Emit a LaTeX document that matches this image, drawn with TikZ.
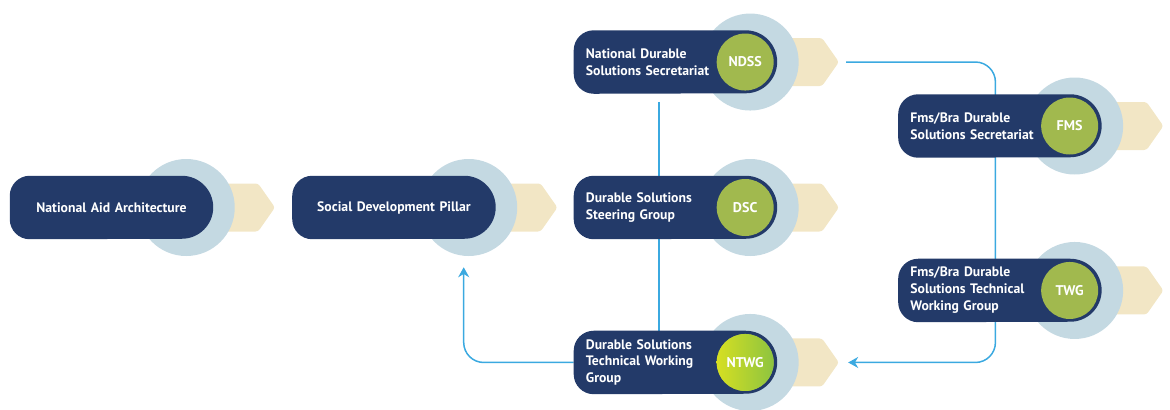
\documentclass[tikz,border=0pt]{standalone}
\usepackage{fontspec}
\setmainfont{PT Sans}
\usetikzlibrary{positioning, arrows.meta, shapes.symbols}

\definecolor{navy}{HTML}{233A69}
\definecolor{ringblue}{HTML}{C4D9E2}
\definecolor{tabtan}{HTML}{F2E6C5}
\definecolor{badgegreen}{HTML}{A1B94E}
\definecolor{badgeyellow}{HTML}{D6DF22}
\definecolor{badgelime}{HTML}{8DC440}
\definecolor{linkblue}{HTML}{3BA9E0}

\pgfdeclarelayer{back}
\pgfdeclarelayer{boxes}
\pgfsetlayers{back,boxes,main}

\begin{document}
\begin{tikzpicture}[
			x=0.3mm, y=-0.3mm,
			>={Stealth[length=3mm, width=3.3mm]},
			stepbox/.style={rectangle, minimum width=60.9mm, minimum height=18.9mm, inner xsep=3.6mm, text width=53.7mm, align=left, text=white, font=\bfseries\fontsize{11.7}{14.5}\selectfont},
			ring/.style={circle, fill=ringblue, minimum size=29.1mm, inner sep=0pt},
			tab/.style={signal, signal to=east, signal pointer angle=110, fill=tabtan, rounded corners=0.8mm, minimum width=24mm, minimum height=14.4mm, inner sep=0pt},
			badge/.style={circle, fill=badgegreen, minimum size=17.1mm, inner sep=0pt, text=white, font=\bfseries\fontsize{12}{14}\selectfont},
			link/.style={draw=linkblue, line width=0.45mm, rounded corners=6mm}
		]
		\useasboundingbox (0,0) rectangle (1170,409);

		% boxes
		\node[stepbox, align=center] (naa) at (111.5,207.5) {National Aid Architecture};
		\node[stepbox, align=center, right=23.7mm of naa] (sdp) {Social Development Pillar};
		\node[stepbox, right=23.4mm of sdp] (dsc) {Durable Solutions\\Steering Group};
		\node[stepbox, above=24.6mm of dsc] (ndss) {National Durable\\Solutions Secretariat};
		\node[stepbox, below=27.45mm of dsc] (ntwg) {Durable Solutions\\Technical Working\\Group};
		\node[stepbox, right=36.3mm of dsc, yshift=24.45mm] (fms) {Fms/Bra Durable\\Solutions Secretariat};
		\node[stepbox, below=30.3mm of fms] (twg) {Fms/Bra Durable\\Solutions Technical\\Working Group};

		% tab, ring and rounded fill behind each box
		\foreach \s in {naa,sdp,dsc,ndss,ntwg,fms,twg} {
			\begin{pgfonlayer}{back}
				\node[tab, anchor=east] (\s-tab) at ([xshift=18.6mm]\s.east) {};
				\node[ring] (\s-ring) at ([xshift=-8.1mm]\s.east) {};
			\end{pgfonlayer}
			\begin{pgfonlayer}{boxes}
				\fill[navy] ([xshift=-9.45mm]\s.north east) arc[start angle=90, end angle=-90, radius=9.45mm]
					-- ([xshift=6mm]\s.south west) arc[start angle=270, end angle=180, radius=6mm]
					-- ([yshift=-6mm]\s.north west) arc[start angle=180, end angle=90, radius=6mm] -- cycle;
			\end{pgfonlayer}
		}

		% badges
		\node[badge] (ndss-badge) at ([xshift=-9.6mm]ndss.east) {NDSS};
		\node[badge] (dsc-badge) at ([xshift=-9.6mm]dsc.east) {DSC};
		\node[badge, left color=badgeyellow, right color=badgelime] (ntwg-badge) at ([xshift=-9.6mm]ntwg.east) {NTWG};
		\node[badge] (fms-badge) at ([xshift=-9.6mm]fms.east) {FMS};
		\node[badge] (twg-badge) at ([xshift=-9.6mm]twg.east) {TWG};

		% connectors
		\begin{pgfonlayer}{back}
			\draw[link] ([xshift=-5mm, yshift=-2.4mm]ndss.south) -- ([xshift=-5mm]ntwg.north);
			\draw[link, ->] (ntwg.west) -| ([xshift=-1.5mm, yshift=-3.3mm]sdp-ring.south);
			\draw[link, ->] ([xshift=2.1mm]ndss-tab.east) -| ([xshift=-1.35mm]fms.south) |- ([xshift=2.7mm]ntwg-tab.east);
		\end{pgfonlayer}
	\end{tikzpicture}
\end{document}
